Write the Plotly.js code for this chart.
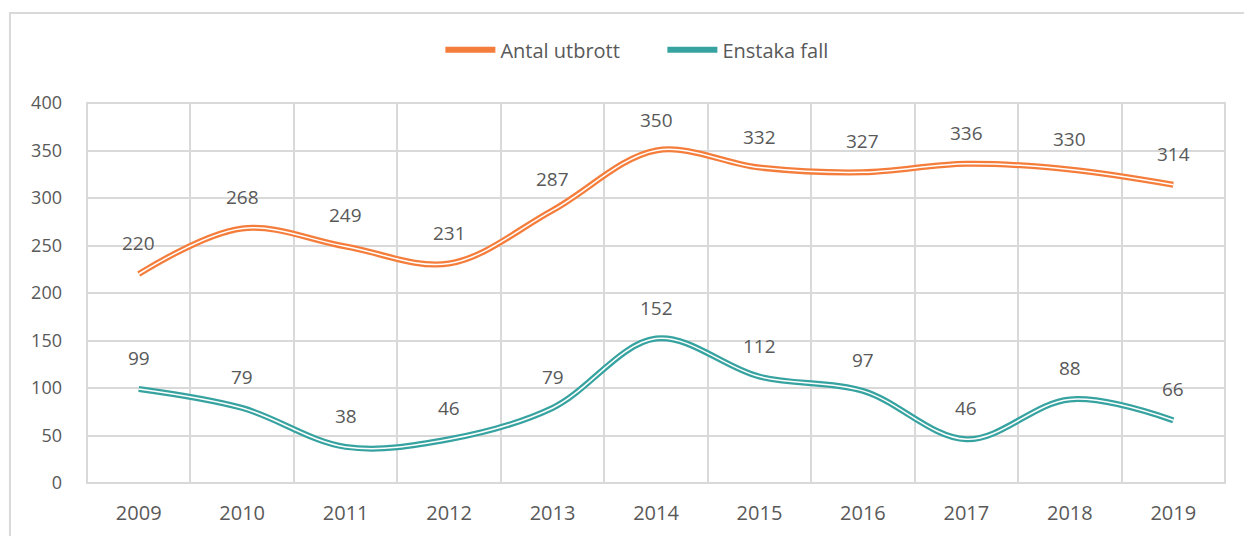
<!DOCTYPE html>
<html>
<head>
<meta charset="utf-8">
<script src="https://cdn.plot.ly/plotly-3.0.1.min.js"></script>
<style>html,body{margin:0;padding:0;background:#fff;}#chart{width:1244px;height:536px;}</style>
</head>
<body>
<div id="chart"></div>
<script>
const years = ["2009","2010","2011","2012","2013","2014","2015","2016","2017","2018","2019"];
const antalUtbrott = [220, 268, 249, 231, 287, 350, 332, 327, 336, 330, 314];
const enstakaFall = [99, 79, 38, 46, 79, 152, 112, 97, 46, 88, 66];
const seriesNames = ["Antal utbrott", "Enstaka fall"];
const seriesColors = ["#f57d3b", "#37a3a1"];

const textColor = "#595959";
const fontFam = "'Open Sans', 'Liberation Sans', sans-serif";

const allSeries = [antalUtbrott, enstakaFall];
const traces = [];
allSeries.forEach((vals, i) => {
  traces.push({
    x: years, y: vals, type: "scatter", mode: "lines", name: seriesNames[i],
    line: {color: seriesColors[i], width: 6, shape: "spline", smoothing: 1},
    hoverinfo: "skip"
  });
  traces.push({
    x: years, y: vals, type: "scatter", mode: "lines", showlegend: false,
    line: {color: "#ffffff", width: 1.5, shape: "spline", smoothing: 1},
    hoverinfo: "skip"
  });
});

const annotations = [];
allSeries.forEach((vals) => {
  vals.forEach((v, j) => {
    annotations.push({
      x: j, y: v, xref: "x", yref: "y", text: String(v), showarrow: false,
      yshift: 31, font: {family: fontFam, size: 19, color: textColor}
    });
  });
});

const layout = {
  width: 1244, height: 536,
  margin: {l: 87, r: 19, t: 103, b: 53},
  paper_bgcolor: "#ffffff", plot_bgcolor: "#ffffff",
  showlegend: true,
  legend: {orientation: "h", x: 0.354, xanchor: "left", xref: "container",
    y: 0.907, yanchor: "middle", yref: "container", bgcolor: "rgba(0,0,0,0)",
    font: {family: fontFam, size: 20, color: textColor}, itemwidth: 50,
    entrywidth: 157, entrywidthmode: "pixels"},
  xaxis: {type: "category", tickson: "boundaries", showgrid: true, gridcolor: "#d9d9d9", gridwidth: 2,
    showline: false, zeroline: false, ticks: "", ticklen: 0, automargin: false, ticklabelstandoff: 16,
    tickfont: {family: fontFam, size: 20, color: textColor}, range: [-0.5, 10.5], fixedrange: true},
  yaxis: {range: [0, 400], dtick: 50, showgrid: true, gridcolor: "#d9d9d9", gridwidth: 2,
    zeroline: false, showline: false, ticks: "", ticklabelstandoff: 24, automargin: false,
    tickfont: {family: fontFam, size: 18, color: textColor}},
  annotations: annotations,
  shapes: [
    {type: "rect", xref: "paper", yref: "paper", x0: 0, x1: 1, y0: 0, y1: 1,
      line: {color: "#d9d9d9", width: 2}, layer: "below"},
    {type: "path", xref: "paper", yref: "paper",
      path: "M -0.0677,-0.2 L -0.0677,1.2368 L 1.1,1.2368",
      line: {color: "#d9d9d9", width: 2}}
  ]
};

Plotly.newPlot("chart", traces, layout, {staticPlot: true, displayModeBar: false});
</script>
</body>
</html>
